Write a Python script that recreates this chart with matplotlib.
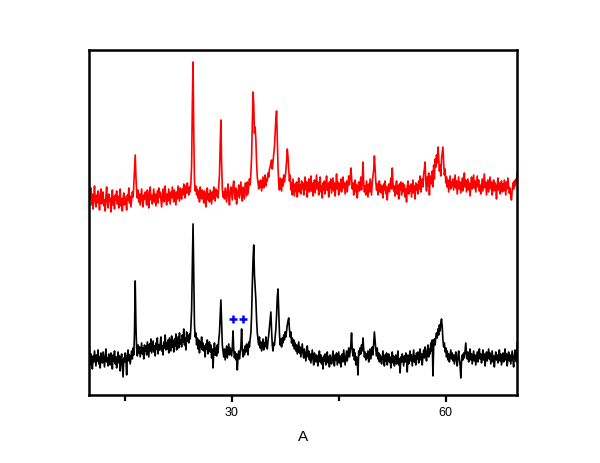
import numpy as np
import matplotlib
matplotlib.use("Agg")
import matplotlib.pyplot as plt

plt.rcParams['font.family'] = ['Liberation Sans', 'DejaVu Sans']

# x grid: 10.0 .. 70.0 step 0.1
x_start, x_step, n_pts = 10.0, 0.1, 601

red_values = [
    218, 205, 196, 207, 190, 201, 186, 198, 209, 194,
    188, 200, 192, 204, 197, 185, 199, 206, 191, 196,
    203, 189, 195, 184, 199, 208, 193, 187, 201, 194,
    197, 183, 192, 205, 190, 198, 186, 200, 195, 204,
    191, 199, 187, 194, 206, 189, 196, 184, 197, 202,
    190, 198, 193, 185, 200, 195, 207, 192, 199, 188,
    196, 203, 198, 210, 225, 240, 218, 204, 197, 205,
    193, 201, 190, 198, 206, 194, 188, 200, 196, 203,
    197, 190, 205, 199, 187, 202, 208, 195, 200, 191,
    199, 206, 193, 201, 189, 197, 204, 192, 207, 198,
    203, 195, 188, 200, 206, 193, 199, 209, 196, 190,
    201, 194, 206, 198, 191, 203, 197, 208, 200, 193,
    205, 198, 190, 203, 196, 209, 201, 194, 207, 199,
    196, 206, 200, 211, 203, 197, 209, 202, 212, 205,
    200, 208, 203, 212, 230, 290, 333, 262, 215, 204,
    209, 200, 206, 197, 204, 193, 208, 201, 196, 205,
    199, 192, 204, 197, 188, 202, 207, 195, 201, 193,
    205, 198, 191, 203, 196, 208, 200, 194, 206, 199,
    204, 197, 209, 220, 250, 275, 232, 206, 198, 203,
    196, 207, 200, 193, 205, 211, 198, 190, 203, 208,
    201, 195, 209, 214, 202, 196, 207, 191, 204, 199,
    210, 197, 205, 213, 200, 194, 208, 202, 196, 212,
    205, 199, 213, 201, 208, 216, 210, 222, 238, 270,
    303, 290, 262, 268, 255, 232, 218, 212, 206, 214,
    208, 215, 204, 211, 218, 207, 213, 220, 209, 216,
    214, 222, 218, 226, 228, 232, 235, 226, 233, 240,
    248, 262, 276, 284, 258, 228, 212, 205, 217, 210,
    204, 216, 209, 220, 213, 218, 224, 234, 246, 238,
    225, 214, 220, 205, 212, 200, 216, 208, 199, 211,
    204, 213, 198, 209, 217, 203, 210, 201, 214, 206,
    212, 200, 208, 218, 205, 213, 198, 209, 216, 203,
    210, 219, 204, 212, 199, 208, 215, 202, 211, 220,
    206, 213, 200, 210, 218, 203, 209, 197, 212, 205,
    214, 201, 208, 219, 205, 211, 198, 213, 207, 216,
    202, 210, 217, 204, 212, 199, 209, 221, 206, 213,
    200, 211, 205, 216, 203, 209, 218, 207, 212, 201,
    208, 214, 203, 211, 219, 210, 216, 227, 218, 206,
    212, 200, 209, 215, 203, 210, 197, 206, 213, 204,
    211, 218, 205, 214, 233, 212, 203, 209, 200, 214,
    206, 198, 211, 203, 216, 208, 200, 213, 219, 225,
    239, 226, 213, 205, 211, 200, 208, 214, 203, 210,
    202, 209, 197, 211, 205, 214, 201, 208, 195, 206,
    211, 203, 210, 217, 206, 227, 212, 204, 209, 199,
    208, 214, 201, 209, 196, 211, 205, 213, 200, 207,
    212, 203, 210, 198, 206, 193, 208, 214, 201, 209,
    204, 211, 198, 207, 215, 202, 209, 196, 212, 205,
    210, 201, 214, 206, 219, 203, 211, 216, 208, 221,
    226, 233, 212, 204, 218, 209, 222, 200, 214, 219,
    211, 224, 208, 230, 216, 236, 228, 240, 232, 248,
    238, 224, 230, 219, 236, 242, 248, 232, 220, 226,
    212, 218, 208, 215, 203, 211, 219, 206, 213, 209,
    216, 205, 212, 220, 207, 214, 201, 210, 218, 206,
    213, 202, 209, 217, 204, 211, 222, 208, 215, 203,
    210, 216, 205, 212, 199, 208, 218, 206, 213, 220,
    207, 214, 203, 211, 219, 208, 215, 204, 210, 201,
    209, 216, 204, 212, 221, 207, 213, 200, 208, 215,
    203, 211, 218, 206, 213, 200, 209, 215, 204, 212,
    208, 196, 210, 217, 205, 212, 201, 209, 214, 203,
    211, 204, 215, 208, 200, 213, 206, 217, 209, 202,
    207, 198, 195, 205, 212, 206, 214, 209, 216, 211,
    223,
]

black_values = [
    58, 44, 30, 41, 35, 26, 39, 33, 44, 37,
    29, 40, 34, 45, 31, 38, 27, 42, 36, 32,
    43, 35, 28, 39, 46, 33, 37, 29, 41, 35,
    30, 42, 37, 26, 40, 34, 44, 31, 38, 27,
    36, 43, 32, 39, 24, 35, 41, 29, 18, 37,
    33, 42, 36, 20, 39, 45, 34, 40, 31, 38,
    44, 36, 47, 40, 62, 114, 70, 46, 39, 50,
    42, 48, 38, 45, 52, 41, 47, 36, 50, 44,
    49, 40, 53, 46, 38, 51, 44, 56, 42, 48,
    54, 43, 49, 39, 52, 46, 57, 41, 50, 45,
    51, 58, 44, 49, 40, 53, 47, 60, 45, 52,
    46, 55, 42, 57, 50, 44, 59, 48, 54, 43,
    56, 49, 61, 45, 53, 58, 47, 62, 51, 55,
    48, 60, 53, 66, 50, 57, 45, 63, 54, 59,
    52, 61, 56, 68, 85, 130, 171, 118, 70, 58,
    62, 50, 57, 46, 55, 42, 53, 48, 58, 45,
    52, 44, 49, 38, 51, 46, 55, 41, 48, 53,
    43, 50, 37, 46, 27, 44, 52, 40, 47, 39,
    50, 42, 55, 62, 78, 95, 72, 50, 44, 38,
    46, 35, 42, 49, 37, 44, 51, 40, 47, 43,
    39, 48, 64, 45, 37, 43, 35, 41, 25, 38,
    44, 36, 42, 48, 66, 47, 38, 45, 40, 49,
    43, 51, 46, 40, 53, 48, 56, 62, 80, 110,
    135, 150, 120, 108, 95, 75, 62, 55, 50, 58,
    47, 53, 44, 50, 56, 45, 52, 48, 58, 51,
    46, 54, 60, 68, 75, 83, 64, 50, 44, 52,
    50, 58, 66, 80, 98, 106, 84, 62, 50, 56,
    48, 57, 52, 60, 55, 63, 58, 64, 70, 74,
    77, 66, 58, 63, 52, 57, 49, 55, 46, 52,
    44, 50, 41, 47, 53, 42, 48, 38, 45, 51,
    42, 37, 46, 40, 34, 43, 49, 38, 44, 35,
    41, 32, 39, 45, 36, 30, 42, 37, 33, 40,
    35, 29, 38, 44, 33, 40, 31, 37, 26, 39,
    34, 41, 30, 36, 43, 32, 38, 28, 40, 35,
    31, 38, 44, 33, 29, 40, 35, 42, 30, 37,
    43, 32, 39, 28, 36, 41, 33, 45, 38, 30,
    37, 44, 34, 41, 47, 38, 43, 50, 62, 45,
    39, 46, 35, 42, 30, 38, 33, 20, 44, 40,
    47, 41, 50, 44, 57, 46, 38, 43, 35, 41,
    37, 44, 33, 39, 46, 36, 42, 48, 40, 52,
    63, 54, 45, 39, 47, 36, 42, 33, 40, 37,
    31, 38, 44, 35, 29, 40, 34, 42, 30, 36,
    41, 33, 38, 27, 36, 43, 32, 39, 29, 35,
    40, 31, 37, 44, 30, 36, 22, 38, 33, 41,
    35, 29, 39, 33, 42, 36, 23, 40, 31, 37,
    44, 34, 40, 29, 37, 45, 33, 39, 30, 42,
    36, 43, 32, 38, 46, 35, 41, 30, 39, 45,
    37, 48, 40, 34, 44, 50, 38, 46, 41, 52,
    44, 55, 19, 48, 56, 50, 58, 62, 57, 66,
    60, 70, 64, 72, 76, 68, 55, 48, 52, 43,
    47, 38, 44, 35, 41, 33, 39, 45, 36, 42,
    34, 40, 31, 37, 43, 35, 29, 38, 44, 36,
    30, 17, 33, 40, 35, 42, 37, 45, 52, 41,
    36, 43, 33, 39, 46, 35, 41, 31, 38, 44,
    34, 40, 30, 37, 43, 33, 39, 46, 36, 41,
    32, 38, 45, 35, 41, 29, 37, 43, 34, 40,
    46, 36, 42, 31, 38, 44, 33, 39, 28, 37,
    43, 35, 40, 32, 38, 45, 34, 41, 30, 36,
    42, 33, 39, 46, 35, 41, 29, 37, 43, 34,
    40, 31, 38, 44, 35, 28, 39, 45, 36, 33,
    52,
]

marker_x = [30.25, 31.6]
marker_y = [76, 76]

major_ticks = [30, 60]
minor_ticks = [15, 45]
x_label = "A"

x = x_start + x_step * np.arange(n_pts)

fig = plt.figure(figsize=(6.0, 4.63), dpi=100)
ax = fig.add_axes([0.148, 0.147, 0.714, 0.745])
ax.plot(x, red_values, color="#ff0000", lw=1.2)
ax.plot(x, black_values, color="black", lw=1.2)
ax.plot(marker_x, marker_y, ls="none", marker="+", color="#0000ff",
        markersize=6, mew=1.8)

ax.set_xlim(10, 70)
ax.set_ylim(0, 345)
ax.set_yticks([])
ax.set_xticks(major_ticks)
ax.set_xticks(minor_ticks, minor=True)
ax.tick_params(axis="x", which="major", direction="out", length=5, width=1.6,
               labelsize=9)
ax.tick_params(axis="x", which="minor", direction="out", length=4, width=1.6)
for s in ax.spines.values():
    s.set_linewidth(1.8)
ax.set_xlabel(x_label, fontsize=11, labelpad=8)
fig.savefig("out.png", dpi=100)
